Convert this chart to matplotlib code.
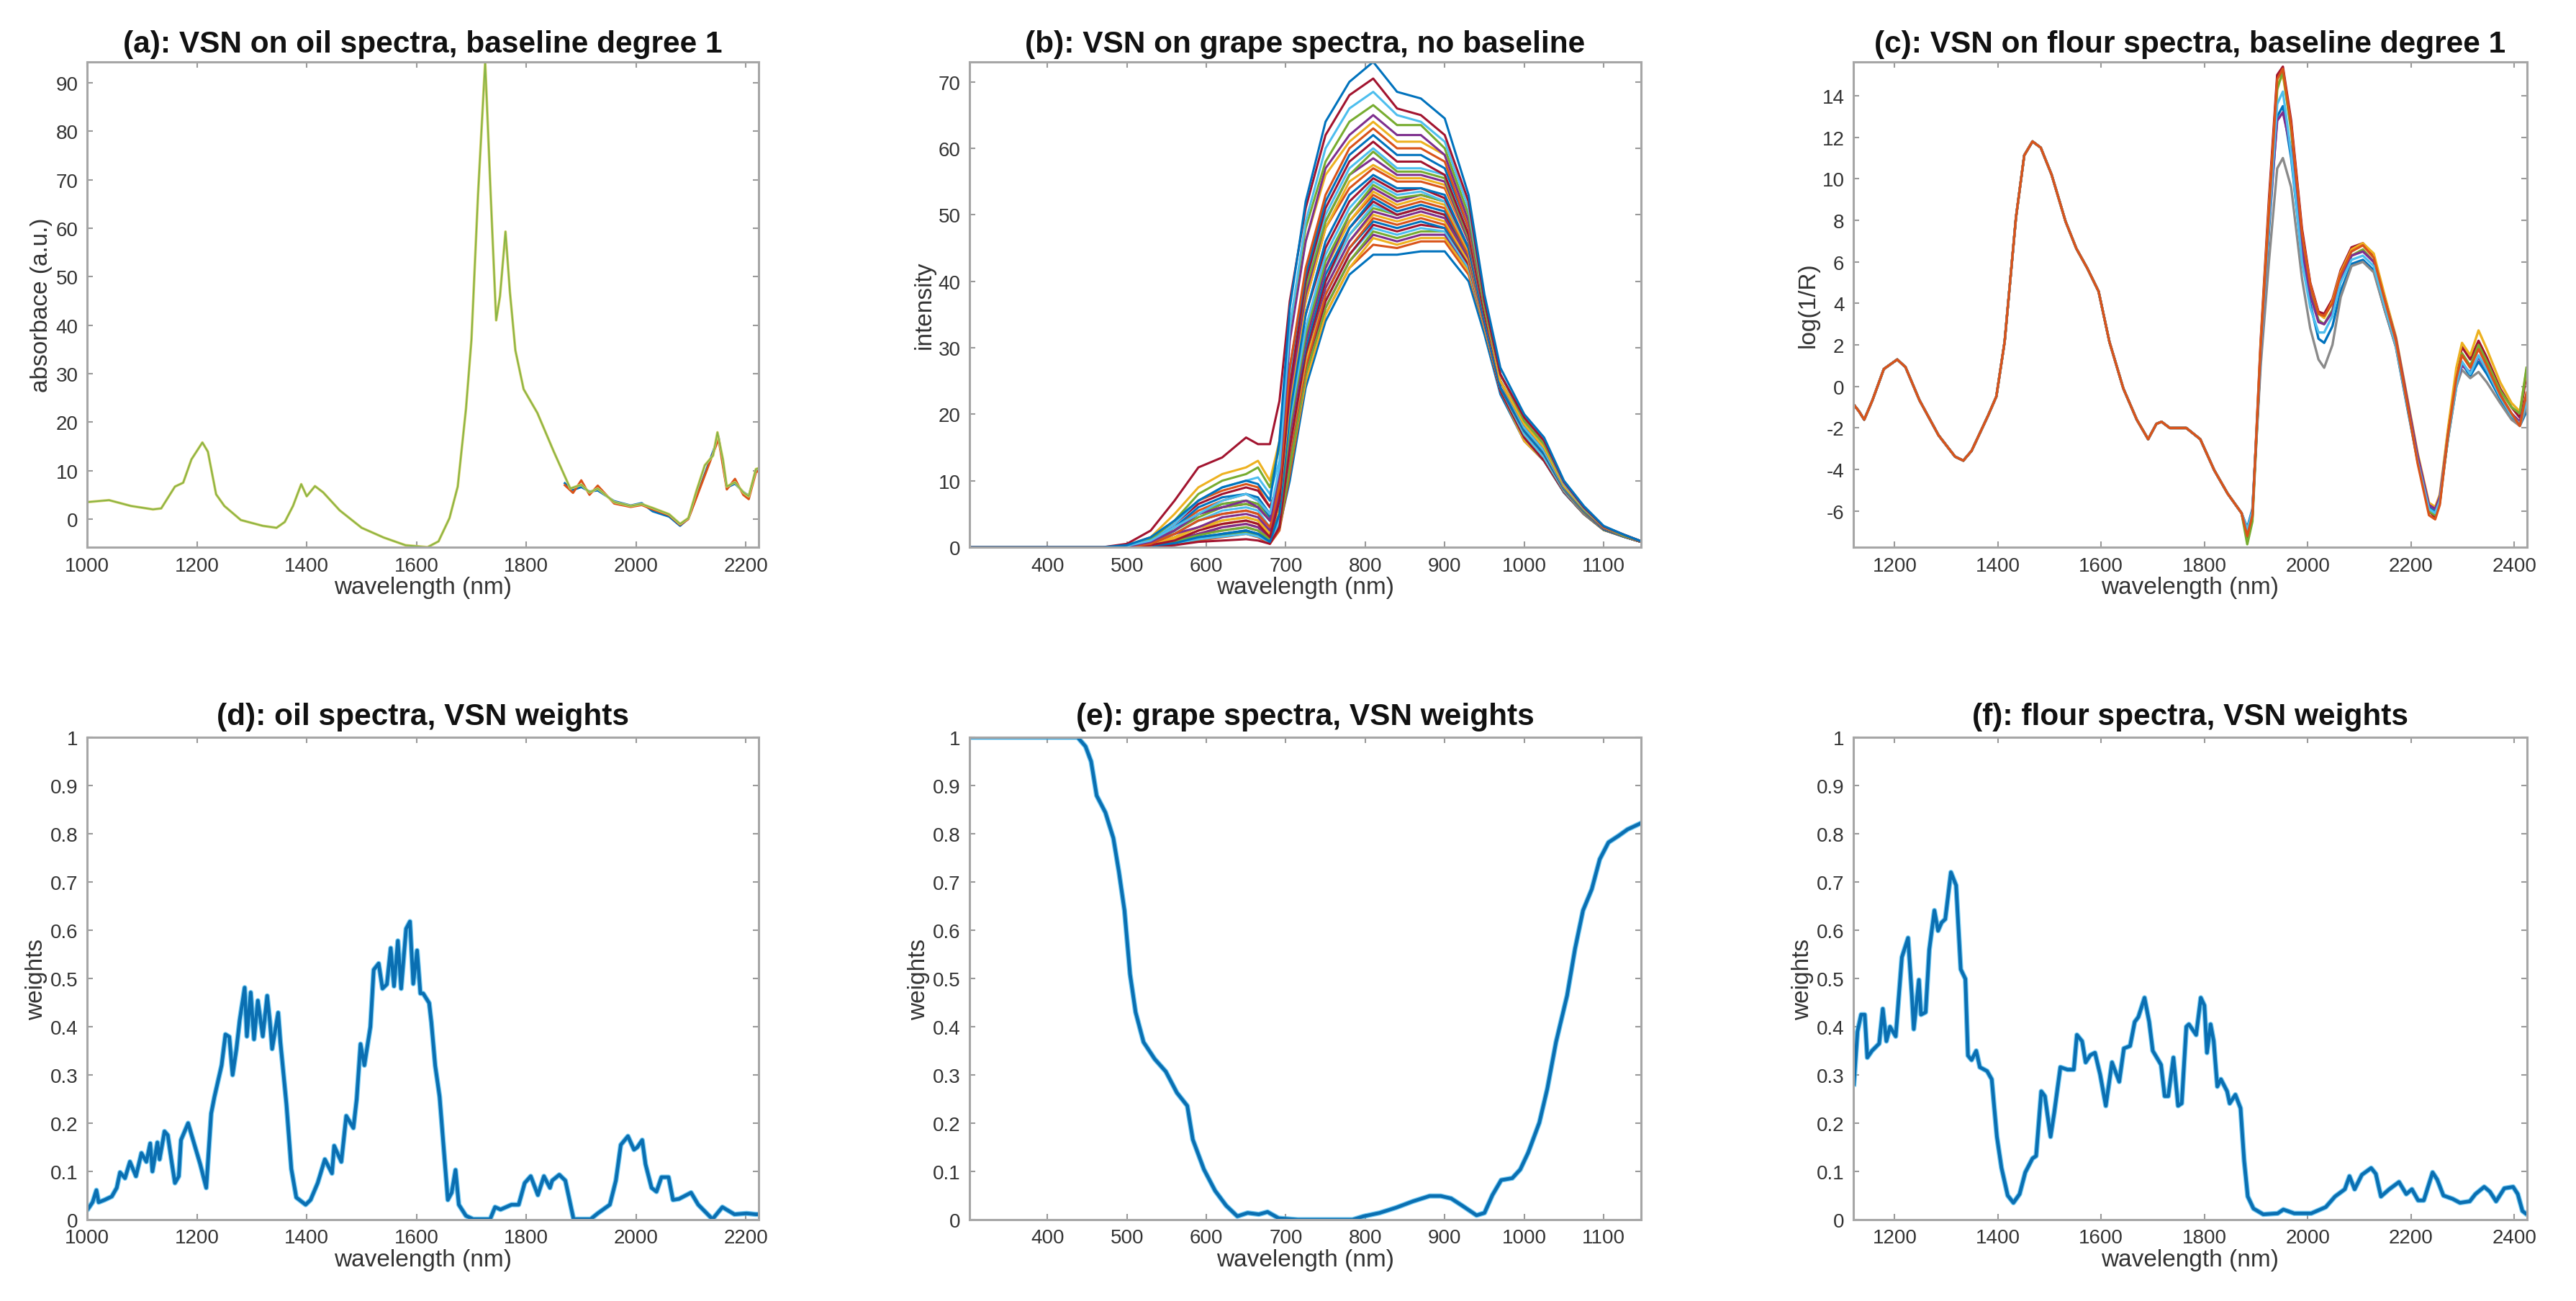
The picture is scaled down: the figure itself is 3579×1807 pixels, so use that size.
import matplotlib.pyplot as plt
import numpy as np

plt.rcParams['font.family'] = ['Liberation Sans', 'DejaVu Sans']
plt.rcParams['axes.unicode_minus'] = False

# MATLAB default line colours
mcol = ['#0072BD', '#D95319', '#EDB120', '#7E2F8E', '#77AC30', '#4DBEEE', '#A2142F']

# ---------------- (a) oil spectra ----------------
oil_wl = [1000, 1040, 1080, 1120, 1135, 1160, 1175, 1190, 1210, 1220, 1235, 1250, 1280, 1320,
          1345, 1360, 1375, 1390, 1400, 1415, 1430, 1460, 1500, 1540, 1580, 1620, 1640, 1660,
          1675, 1690, 1700, 1712, 1725, 1735, 1745, 1752, 1762, 1770, 1780, 1795, 1820, 1850,
          1880, 1900, 1915, 1930, 1960, 1990, 2010, 2030, 2060, 2080, 2095, 2110, 2125, 2140,
          2148, 2158, 2165, 2180, 2195, 2205, 2218, 2223]
oil_abs = [3.5, 3.9, 2.7, 2.0, 2.2, 6.7, 7.5, 12.3, 15.8, 13.9, 5.1, 2.7, -0.2, -1.4,
           -1.8, -0.6, 2.7, 7.2, 4.7, 6.8, 5.5, 1.8, -1.8, -3.8, -5.4, -5.8, -4.6, 0.2,
           6.7, 22.7, 37.0, 67.0, 94.3, 67.0, 41.0, 46.0, 59.3, 46.9, 34.8, 26.8, 21.9, 13.9,
           6.3, 7.1, 5.5, 6.3, 3.5, 2.7, 3.1, 2.3, 1.0, -1.0, 0.2, 5.9, 11.1, 13.1,
           17.9, 12.3, 6.7, 7.6, 5.5, 4.7, 10.3, 10.5]
oil_var_wl = [1870, 1885, 1900, 1915, 1930, 1960, 1990, 2010, 2030, 2060, 2080, 2095,
              2150, 2165, 2180, 2195, 2205, 2218, 2223]
oil_red = [7.0, 5.4, 8.0, 5.0, 6.9, 3.2, 2.5, 2.9, 2.0, 0.8, -1.2, 0.0,
           16.5, 6.1, 8.3, 5.0, 4.1, 9.6, 10.0]
oil_blue = [7.4, 6.0, 6.6, 5.7, 5.9, 3.7, 2.8, 3.3, 1.6, 0.5, -1.4, 0.1,
            17.0, 6.5, 7.3, 5.6, 4.8, 10.0, 10.4]

# ---------------- (b) grape spectra ----------------
grape_wl = [302, 470, 500, 530, 560, 590, 620, 650, 665, 680, 692, 705, 725, 750, 780, 810,
            840, 870, 900, 930, 950, 970, 1000, 1025, 1050, 1075, 1100, 1125, 1147]
grape_spectra = [
    [0, 0, 0.3, 1.5, 4, 7, 9, 10, 9.5, 7, 16, 36, 52, 64, 70, 73, 68.5, 67.5, 64.5, 53, 38, 27, 20, 16.5, 10, 6.2, 3.2, 1.9, 0.9],
    [0, 0, 0.5, 2.5, 7, 12, 13.5, 16.5, 15.5, 15.5, 22, 37, 51, 62, 68, 70.5, 66, 65, 62, 52, 37, 26, 19.5, 16, 9.8, 6, 3.1, 1.9, 0.9],
    [0, 0, 0.2, 1, 3, 5, 7, 8, 7, 5, 12, 33, 49, 60, 66, 68.5, 65, 64, 61, 51, 37, 26, 19.5, 16, 9.6, 5.9, 3.1, 1.9, 0.9],
    [0, 0, 0.2, 1.2, 4, 8, 10, 11, 12, 9, 15, 33, 48, 58, 64, 66.5, 63.5, 63.5, 60, 50, 36, 26, 19, 15.5, 9.6, 5.8, 3.1, 1.8, 0.9],
    [0, 0, 0.1, 0.8, 2.5, 5, 6, 7, 6, 4, 11, 31, 46, 57, 62, 65, 62, 62, 59, 49, 36, 26, 19.5, 16, 9.6, 6, 3.1, 1.9, 0.9],
    [0, 0, 0.3, 1.5, 5, 9, 11, 12, 13, 10, 16, 32, 46, 56, 61, 64, 61, 61, 59, 49, 36, 25, 18.5, 15, 9.2, 5.7, 3.0, 1.8, 0.9],
    [0, 0, 0, 0.5, 2, 4, 5, 5.5, 5, 3, 9, 27, 42, 53, 60, 63, 60, 60, 58, 48, 36, 25, 18.5, 15, 9.2, 5.7, 3.0, 1.8, 0.8],
    [0, 0, 0.1, 1, 3, 6, 7.5, 8, 7.5, 5, 11, 27, 41, 52, 59, 62, 59, 59, 57, 48, 36, 25, 18.5, 15, 9.1, 5.5, 3.0, 1.8, 0.8],
    [0, 0, 0, 0.3, 1, 2.5, 3.5, 4, 3.5, 1.5, 7, 24, 40, 51, 58, 61, 58, 58, 56, 47, 35, 25, 18.5, 15, 9.1, 5.5, 2.9, 1.8, 0.8],
    [0, 0, 0.2, 1, 3.5, 7, 9, 10, 10.5, 8, 13, 26, 40, 50, 57, 60, 57, 57, 56, 47, 35, 25, 18, 14.5, 9.0, 5.5, 2.9, 1.8, 0.8],
    [0, 0, 0.1, 0.6, 2.5, 5, 6.5, 7, 6.5, 4, 10, 25, 39, 49, 56, 59.5, 56.5, 56.5, 55.5, 46.5, 35, 25, 18, 14.5, 9, 5.5, 2.9, 1.7, 0.8],
    [0, 0, 0, 0.5, 2, 3, 4.5, 5, 4.5, 2.5, 8, 23, 38, 49, 56, 58.5, 56, 56, 55, 46, 35, 25, 18, 14.5, 9.0, 5.5, 2.9, 1.7, 0.8],
    [0, 0, 0, 0.3, 1.2, 2.5, 3.5, 4, 3.5, 2, 7, 22, 37, 48, 55, 57.5, 55.5, 55.5, 54.5, 46, 35, 25, 18, 14.5, 9, 5.4, 2.9, 1.7, 0.8],
    [0, 0, 0.1, 0.8, 3, 5.5, 7, 8, 7, 5, 10, 23, 37, 48, 54, 57, 55, 55, 54, 46, 35, 25, 18, 14.5, 9.0, 5.4, 2.9, 1.7, 0.8],
    [0, 0, 0, 0.2, 0.6, 1.5, 2, 2.5, 2, 0.8, 5, 20, 35, 46, 53, 56, 54, 54, 53, 45, 34, 24, 17.5, 14, 8.8, 5.3, 2.8, 1.7, 0.8],
    [0, 0, 0.2, 1, 3.5, 6.5, 8, 9, 8.5, 6, 10, 21, 35, 45, 52, 55.5, 53.5, 54, 52.5, 45, 34, 24, 17.5, 14, 8.8, 5.3, 2.8, 1.7, 0.8],
    [0, 0, 0.1, 0.6, 2, 4, 5.5, 6, 5.5, 3, 7, 19, 33, 44, 51, 55, 53, 53.5, 52, 45, 34, 24, 17.5, 14, 8.8, 5.3, 2.8, 1.7, 0.8],
    [0, 0, 0, 0.2, 0.8, 1.8, 2.5, 3, 2.5, 1.2, 5, 18, 32, 43, 50, 54.5, 52.5, 53, 52, 45, 34, 24, 17.5, 14, 8.8, 5.3, 2.8, 1.7, 0.8],
    [0, 0, 0, 0.3, 1, 2, 3, 3.5, 3, 1.5, 5, 17, 31, 42, 50, 54, 52, 53, 52, 45, 34, 24, 17.5, 14, 8.8, 5.3, 2.8, 1.7, 0.8],
    [0, 0, 0.1, 0.5, 1.5, 3, 4, 4.5, 4, 2.5, 6, 18, 31, 42, 49, 53.5, 51.5, 52.5, 51.5, 44.5, 34, 24, 17.5, 14, 8.7, 5.2, 2.8, 1.7, 0.8],
    [0, 0, 0.2, 1, 3.5, 7, 8.5, 9.5, 9, 6, 10, 19, 31, 42, 49, 53, 51, 52, 51, 44, 34, 24, 17.5, 14, 8.7, 5.2, 2.8, 1.7, 0.8],
    [0, 0, 0.1, 0.8, 2.5, 5, 6.5, 7, 6.5, 4.5, 8, 18, 30, 41, 48, 52.5, 50.5, 51.5, 50.5, 44, 34, 24, 17.5, 14, 8.7, 5.2, 2.7, 1.6, 0.8],
    [0, 0, 0, 0.1, 0.3, 0.8, 1, 1.2, 1, 0.5, 3, 15, 29, 40, 48, 52, 50, 51, 50, 44, 34, 24, 17.5, 14, 8.7, 5.2, 2.7, 1.6, 0.8],
    [0, 0, 0, 0.2, 0.6, 1.2, 1.6, 2, 1.6, 0.8, 4, 15, 29, 40, 47, 51.5, 50, 51, 50, 44, 34, 24, 17, 13.5, 8.5, 5.1, 2.7, 1.6, 0.8],
    [0, 0, 0.1, 0.7, 2.5, 4.5, 6, 6.5, 6, 4, 7, 16, 29, 40, 47, 51, 50, 51, 50, 44, 34, 24, 17, 13.5, 8.5, 5.1, 2.7, 1.6, 0.8],
    [0, 0, 0.1, 0.6, 2, 4, 5, 5.5, 5, 3, 6, 16, 29, 39, 46, 50.5, 49.5, 50.5, 49.5, 43.5, 33.5, 24, 17, 13.5, 8.5, 5.1, 2.7, 1.6, 0.8],
    [0, 0, 0, 0.4, 1.5, 3, 4, 4.5, 4, 2, 5, 15, 28, 39, 46, 50, 49, 50, 49, 43, 33, 24, 17, 13.5, 8.5, 5.1, 2.7, 1.6, 0.8],
    [0, 0, 0, 0.3, 1, 2, 3, 3.5, 3, 1.5, 4.5, 14, 27, 38, 45, 49.5, 48.5, 49.5, 48.5, 43, 33, 24, 17, 13.5, 8.5, 5.1, 2.7, 1.6, 0.8],
    [0, 0, 0, 0.2, 0.7, 1.5, 2, 2.5, 2, 1, 4, 14, 27, 38, 45, 49, 48, 49, 48, 43, 33, 24, 17, 13.5, 8.5, 5.1, 2.7, 1.6, 0.8],
    [0, 0, 0.1, 0.7, 2.5, 5, 6, 6.5, 6, 4, 6.5, 15, 27, 37, 44, 48.5, 47.5, 48.5, 48, 42.5, 33, 23.5, 16.5, 13, 8.3, 5, 2.7, 1.6, 0.8],
    [0, 0, 0.1, 0.5, 1.5, 3, 4, 4.5, 4, 2.5, 5, 14, 27, 37, 44, 48, 47, 48, 47.5, 42, 33, 23.5, 16.5, 13, 8.3, 5.0, 2.7, 1.6, 0.8],
    [0, 0, 0, 0.2, 0.6, 1.2, 1.8, 2.2, 1.8, 0.8, 3, 12, 26, 36, 43, 47.5, 46.5, 47.5, 47.5, 42, 33, 23.5, 16.5, 13, 8.3, 5, 2.6, 1.6, 0.8],
    [0, 0, 0, 0.3, 1, 2, 2.5, 3, 2.5, 1, 3.5, 12, 26, 36, 43, 47, 46, 47, 47, 42, 33, 23.5, 16.5, 13, 8.3, 5.0, 2.6, 1.6, 0.8],
    [0, 0, 0.1, 0.5, 1.5, 3, 3.5, 4, 3.5, 2, 4, 12, 25, 35, 42, 46.5, 45.5, 46.5, 46.5, 41.5, 33, 23.5, 16, 13, 8.3, 5, 2.6, 1.6, 0.8],
    [0, 0, 0, 0.1, 0.5, 1, 1.5, 2, 1.5, 0.5, 2.5, 11, 25, 35, 42, 45.5, 45, 46, 46, 41, 33, 23.5, 16, 13, 8.3, 5.0, 2.6, 1.6, 0.8],
    [0, 0, 0, 0.2, 0.6, 1.2, 2, 2.5, 2, 1, 3, 10, 24, 34, 41, 44, 44, 44.5, 44.5, 40, 32, 23, 16, 13, 8.2, 5.0, 2.6, 1.6, 0.8],
]

# ---------------- (c) flour spectra ----------------
flour_head_wl = [1120, 1131, 1141, 1157, 1179, 1205, 1221, 1248, 1285, 1317, 1333, 1349, 1381, 1397,
                 1413, 1435, 1451, 1467, 1483, 1504, 1531, 1552, 1573, 1595, 1616, 1643, 1669, 1691,
                 1707, 1717, 1733, 1765, 1792, 1819, 1845, 1872]
flour_head = [-0.85, -1.2, -1.6, -0.66, 0.84, 1.3, 0.93, -0.66, -2.35, -3.38, -3.57, -3.1, -1.4, -0.48,
              2.15, 8.14, 11.13, 11.8, 11.5, 10.2, 7.95, 6.64, 5.7, 4.58, 2.15, -0.1, -1.6, -2.54,
              -1.8, -1.7, -2.0, -2.0, -2.54, -4.03, -5.16, -6.1]
flour_tail_wl = [1883, 1893, 1909, 1925, 1941, 1952, 1968, 1989, 2005, 2021, 2032, 2048, 2064, 2085,
                 2107, 2128, 2149, 2171, 2192, 2213, 2235, 2247, 2256, 2272, 2288, 2299, 2315, 2331,
                 2347, 2373, 2395, 2411, 2424]
flour_tails = [
    [-7.3, -6.3, 2.2, 9.0, 15.0, 15.4, 12.8, 7.6, 5.0, 3.6, 3.5, 4.2, 5.6, 6.7, 6.9, 6.3, 4.3, 2.3, -0.6, -3.5, -6.0, -6.3, -5.6, -2.2, 0.6, 1.9, 1.3, 2.2, 1.4, -0.1, -1.0, -1.5, 0.6],
    [-6.8, -5.9, 1.3, 7.5, 13.0, 13.5, 11.0, 6.2, 4.0, 2.3, 2.1, 2.9, 4.6, 5.9, 6.1, 5.6, 3.7, 1.9, -0.9, -3.6, -5.8, -6.0, -5.4, -2.5, 0.0, 1.1, 0.5, 1.2, 0.6, -0.6, -1.5, -1.9, -1.2],
    [-6.9, -6.0, 1.0, 6.0, 10.5, 11.0, 9.6, 5.2, 2.8, 1.3, 0.9, 2.0, 4.3, 5.8, 6.0, 5.5, 3.7, 1.9, -0.8, -3.5, -5.7, -5.9, -5.3, -2.5, 0.0, 0.8, 0.4, 0.7, 0.2, -0.8, -1.6, -1.9, -1.0],
    [-7.1, -6.2, 2.0, 8.6, 14.5, 15.0, 12.5, 7.3, 4.9, 3.5, 3.3, 4.1, 5.5, 6.6, 6.9, 6.4, 4.4, 2.4, -0.4, -3.2, -5.6, -5.8, -5.2, -2.0, 0.9, 2.1, 1.5, 2.7, 1.8, 0.2, -0.8, -1.2, 0.8],
    [-7.6, -6.5, 1.6, 8.0, 14.3, 15.2, 12.3, 7.1, 4.6, 3.2, 3.0, 3.7, 5.1, 6.3, 6.6, 6.0, 4.1, 2.2, -0.7, -3.6, -6.0, -6.2, -5.6, -2.4, 0.3, 1.6, 1.0, 2.0, 1.2, -0.2, -1.0, -1.3, 0.9],
    [-7.0, -6.0, 1.5, 7.8, 12.8, 13.2, 11.4, 6.6, 4.4, 3.1, 3.0, 3.6, 5.2, 6.3, 6.5, 6.0, 4.2, 2.3, -0.5, -3.3, -5.7, -5.9, -5.3, -2.3, 0.2, 1.0, 0.7, 1.4, 0.8, -0.4, -1.3, -1.7, -0.4],
    [-6.9, -6.0, 1.6, 7.8, 13.6, 14.2, 11.2, 6.0, 3.8, 2.6, 2.6, 3.4, 5.0, 6.1, 6.3, 5.8, 3.9, 2.0, -0.8, -3.6, -5.9, -6.1, -5.5, -2.4, 0.1, 1.2, 0.6, 1.5, 0.8, -0.5, -1.4, -1.8, -0.8],
    [-7.2, -6.2, 1.9, 8.4, 14.8, 15.3, 12.6, 7.4, 4.9, 3.5, 3.4, 4.0, 5.4, 6.5, 6.8, 6.2, 4.2, 2.2, -0.7, -3.7, -6.2, -6.4, -5.7, -2.3, 0.4, 1.5, 0.9, 1.8, 1.0, -0.4, -1.3, -1.9, -0.3],
]
flour_colors = ['#A2142F', '#0072BD', '#8a8a8a', '#EDB120', '#77AC30', '#7E2F8E', '#4DBEEE', '#D95319']

# ---------------- (d) oil weights ----------------
oil_w_wl = [1000, 1001, 1010, 1017, 1021, 1032, 1045, 1054, 1060, 1069, 1078, 1089, 1099, 1108, 1115,
            1119, 1128, 1132, 1141, 1147, 1154, 1160, 1167, 1171, 1184, 1193, 1206, 1217, 1226, 1232,
            1239, 1245, 1252, 1259, 1265, 1272, 1278, 1287, 1291, 1298, 1304, 1311, 1320, 1328, 1333,
            1337, 1348, 1352, 1363, 1372, 1381, 1398, 1407, 1420, 1433, 1446, 1450, 1463, 1472, 1485,
            1491, 1498, 1505, 1516, 1522, 1531, 1538, 1546, 1553, 1559, 1566, 1572, 1581, 1588, 1594,
            1601, 1607, 1612, 1623, 1627, 1634, 1642, 1649, 1657, 1664, 1671, 1677, 1690, 1703, 1734,
            1743, 1753, 1773, 1786, 1797, 1808, 1821, 1832, 1843, 1847, 1860, 1871, 1886, 1917, 1930,
            1952, 1963, 1972, 1985, 1996, 2002, 2011, 2017, 2028, 2037, 2046, 2059, 2067, 2078, 2100,
            2113, 2126, 2139, 2157, 2179, 2201, 2218, 2223]
oil_w = [0.02, 0.021, 0.036, 0.061, 0.036, 0.041, 0.048, 0.066, 0.098, 0.086, 0.12, 0.09, 0.138, 0.12, 0.158,
         0.10, 0.16, 0.125, 0.183, 0.175, 0.12, 0.076, 0.09, 0.165, 0.20, 0.165, 0.115, 0.066, 0.22, 0.255,
         0.29, 0.32, 0.384, 0.379, 0.30, 0.354, 0.414, 0.481, 0.38, 0.471, 0.374, 0.454, 0.38, 0.464, 0.41,
         0.354, 0.429, 0.369, 0.24, 0.105, 0.046, 0.031, 0.041, 0.076, 0.125, 0.096, 0.153, 0.12, 0.215, 0.19,
         0.25, 0.364, 0.32, 0.40, 0.518, 0.531, 0.479, 0.488, 0.563, 0.484, 0.578, 0.479, 0.603, 0.618, 0.489,
         0.558, 0.469, 0.469, 0.449, 0.409, 0.319, 0.255, 0.155, 0.041, 0.056, 0.103, 0.031, 0.008, 0.001, 0.001,
         0.026, 0.021, 0.031, 0.031, 0.076, 0.09, 0.051, 0.09, 0.066, 0.081, 0.093, 0.081, 0.001, 0.001, 0.013,
         0.031, 0.081, 0.155, 0.173, 0.145, 0.15, 0.165, 0.115, 0.066, 0.058, 0.088, 0.088, 0.041, 0.043, 0.056,
         0.031, 0.016, 0.001, 0.026, 0.011, 0.013, 0.011, 0.011]

# ---------------- (e) grape weights ----------------
grape_w_wl = [302, 438, 448, 455, 462, 473, 483, 490, 497, 504, 511, 521, 535, 549, 563, 576, 583, 597,
              611, 625, 639, 652, 666, 677, 691, 715, 784, 798, 818, 839, 860, 881, 895, 908, 922, 940,
              950, 960, 971, 985, 995, 1005, 1019, 1029, 1040, 1054, 1064, 1074, 1085, 1095, 1106, 1119,
              1130, 1147]
grape_w = [1.0, 1.0, 0.981, 0.95, 0.879, 0.844, 0.791, 0.721, 0.641, 0.509, 0.43, 0.368, 0.333, 0.307,
           0.263, 0.236, 0.166, 0.104, 0.06, 0.029, 0.007, 0.014, 0.011, 0.016, 0.003, 0.0, 0.0, 0.007,
           0.014, 0.025, 0.038, 0.049, 0.049, 0.044, 0.029, 0.009, 0.014, 0.051, 0.082, 0.086, 0.104, 0.139,
           0.201, 0.271, 0.368, 0.465, 0.562, 0.641, 0.685, 0.747, 0.782, 0.796, 0.809, 0.822]

# ---------------- (f) flour weights ----------------
flour_w_wl = [1121, 1128, 1135, 1142, 1147, 1156, 1170, 1177, 1184, 1191, 1202, 1214, 1226, 1233, 1237,
              1247, 1251, 1260, 1267, 1277, 1284, 1291, 1298, 1309, 1319, 1328, 1337, 1342, 1349, 1358,
              1365, 1379, 1388, 1398, 1407, 1419, 1430, 1442, 1453, 1467, 1474, 1484, 1491, 1502, 1509,
              1521, 1535, 1547, 1553, 1563, 1570, 1579, 1588, 1598, 1609, 1621, 1635, 1644, 1656, 1665,
              1672, 1684, 1693, 1700, 1716, 1723, 1730, 1740, 1749, 1756, 1765, 1770, 1784, 1793, 1800,
              1805, 1812, 1818, 1825, 1832, 1844, 1849, 1860, 1870, 1877, 1884, 1895, 1914, 1942, 1953,
              1974, 2007, 2035, 2053, 2072, 2081, 2091, 2105, 2123, 2132, 2142, 2158, 2177, 2191, 2202,
              2214, 2225, 2242, 2251, 2263, 2281, 2295, 2314, 2325, 2342, 2353, 2365, 2381, 2398, 2407,
              2416, 2422]
flour_w = [0.281, 0.39, 0.425, 0.425, 0.336, 0.35, 0.365, 0.437, 0.37, 0.40, 0.38, 0.544, 0.584, 0.47, 0.395,
           0.497, 0.425, 0.43, 0.559, 0.641, 0.599, 0.616, 0.623, 0.72, 0.693, 0.519, 0.499, 0.34, 0.331, 0.35,
           0.316, 0.308, 0.291, 0.172, 0.107, 0.05, 0.035, 0.053, 0.098, 0.127, 0.132, 0.266, 0.256, 0.172, 0.221,
           0.316, 0.311, 0.311, 0.383, 0.37, 0.326, 0.341, 0.346, 0.301, 0.236, 0.326, 0.286, 0.355, 0.36, 0.41,
           0.42, 0.46, 0.41, 0.35, 0.321, 0.256, 0.256, 0.336, 0.236, 0.241, 0.40, 0.405, 0.383, 0.46, 0.444,
           0.346, 0.405, 0.37, 0.276, 0.291, 0.266, 0.241, 0.259, 0.231, 0.122, 0.048, 0.023, 0.011, 0.013, 0.021,
           0.013, 0.013, 0.026, 0.048, 0.063, 0.09, 0.063, 0.093, 0.107, 0.095, 0.048, 0.063, 0.078, 0.053, 0.063,
           0.04, 0.04, 0.098, 0.083, 0.05, 0.043, 0.035, 0.038, 0.053, 0.068, 0.058, 0.038, 0.065, 0.068, 0.053,
           0.018, 0.013]

w_ticks = [0, 0.1, 0.2, 0.3, 0.4, 0.5, 0.6, 0.7, 0.8, 0.9, 1]
w_ticklabels = ['0', '0.1', '0.2', '0.3', '0.4', '0.5', '0.6', '0.7', '0.8', '0.9', '1']

fig = plt.figure(figsize=(35.79, 18.08), dpi=100)
W, H = 3579, 1808
cols = [(121, 933), (1347, 933), (2575, 936)]
rows = [(87, 761), (1025, 1695)]

def make_ax(c, r):
    x0, w = cols[c]
    t, b = rows[r]
    return fig.add_axes([x0 / W, 1 - b / H, w / W, (b - t) / H])

def style(ax, xlim, ylim, xticks, yticks, ylabel, title, yticklabels=None, tpad=10):
    ax.set_xlim(xlim)
    ax.set_ylim(ylim)
    ax.set_xticks(xticks)
    ax.set_yticks(yticks)
    if yticklabels is not None:
        ax.set_yticklabels(yticklabels)
    ax.tick_params(direction='in', length=6, width=1.5, color='#9a9a9a', labelsize=20,
                   labelcolor='#333333', top=True, right=True, pad=9)
    for s in ax.spines.values():
        s.set_color('#a6a6a6')
        s.set_linewidth(2.2)
    ax.set_title(title, fontsize=30.5, fontweight='bold', pad=tpad, color='#111111')
    ax.set_xlabel('wavelength (nm)', fontsize=24, color='#333333', labelpad=1)
    ax.set_ylabel(ylabel, fontsize=24, color='#333333', labelpad=3)

def weight_line(ax, x, y):
    ax.plot(x, y, color='#3cb4ec', lw=5.2, alpha=0.7, solid_joinstyle='round')
    ax.plot(x, y, color='#0a6fb2', lw=3.4, solid_joinstyle='round')

# (a)
ax = make_ax(0, 0)
ax.plot(oil_var_wl, oil_blue, color=mcol[0], lw=2.2)
ax.plot(oil_var_wl, oil_red, color=mcol[1], lw=2.2)
ax.plot(oil_wl, oil_abs, color='#d9cf6a', lw=2.6)
ax.plot(oil_wl, oil_abs, color='#86b545', lw=1.4)
style(ax, (1000, 2223), (-5.8, 94.3), range(1000, 2201, 200), range(0, 91, 10),
      'absorbace (a.u.)', '(a): VSN on oil spectra, baseline degree 1')

# (b)
ax = make_ax(1, 0)
for i, spec in enumerate(grape_spectra[::-1]):
    ax.plot(grape_wl, spec, color=mcol[i % 7], lw=2.2, solid_joinstyle='round')
style(ax, (302, 1147), (0, 73), range(400, 1101, 100), range(0, 71, 10),
      'intensity', '(b): VSN on grape spectra, no baseline')

# (c)
ax = make_ax(2, 0)
for tail, colr in zip(flour_tails, flour_colors):
    ax.plot(flour_head_wl + flour_tail_wl, flour_head + tail, color=colr, lw=2.4)
style(ax, (1120, 2425), (-7.74, 15.63), range(1200, 2401, 200), range(-6, 15, 2),
      'log(1/R)', '(c): VSN on flour spectra, baseline degree 1')

# (d)
ax = make_ax(0, 1)
weight_line(ax, oil_w_wl, oil_w)
style(ax, (1000, 2223), (0, 1), range(1000, 2201, 200), w_ticks,
      'weights', '(d): oil spectra, VSN weights', w_ticklabels, tpad=13)

# (e)
ax = make_ax(1, 1)
weight_line(ax, grape_w_wl, grape_w)
style(ax, (302, 1147), (0, 1), range(400, 1101, 100), w_ticks,
      'weights', '(e): grape spectra, VSN weights', w_ticklabels, tpad=13)

# (f)
ax = make_ax(2, 1)
weight_line(ax, flour_w_wl, flour_w)
style(ax, (1120, 2425), (0, 1), range(1200, 2401, 200), w_ticks,
      'weights', '(f): flour spectra, VSN weights', w_ticklabels, tpad=13)

fig.savefig('out.png', dpi=100, facecolor='white')
